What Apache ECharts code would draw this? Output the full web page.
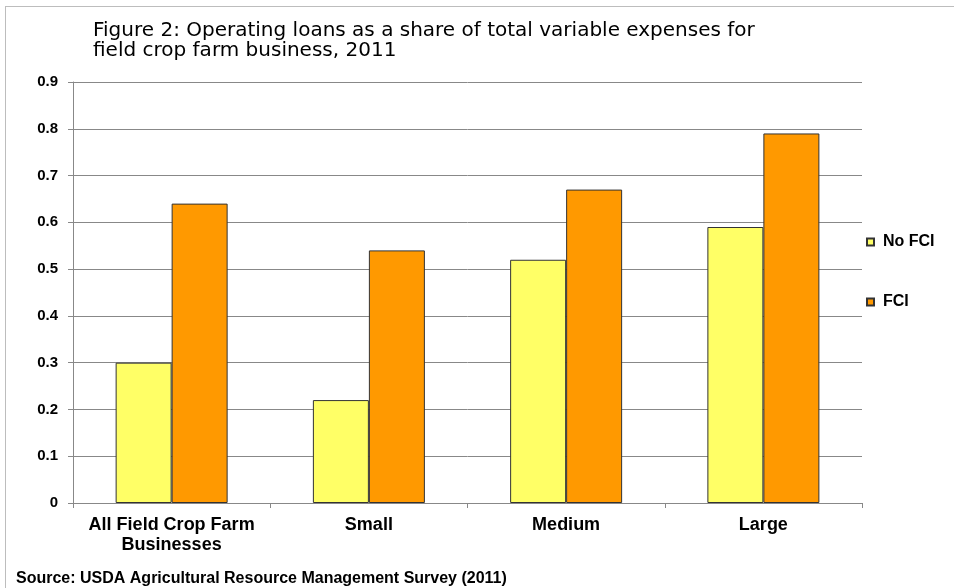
<!DOCTYPE html>
<html>
<head>
<meta charset="utf-8">
<script src="https://cdn.jsdelivr.net/npm/echarts@6/dist/echarts.min.js"></script>
<style>
html,body{margin:0;padding:0;background:#fff;}
#wrap{position:absolute;left:0;top:0;width:954px;height:588px;}
#frame{position:absolute;left:5px;top:6px;width:960px;height:600px;border:1px solid #bdbdbd;box-sizing:border-box;}
#chart{position:absolute;left:0;top:0;width:954px;height:588px;}
</style>
</head>
<body>
<div id="wrap"><div id="frame"></div><div id="chart"></div></div>
<script>
const categories = ['All Field Crop Farm\nBusinesses', 'Small', 'Medium', 'Large'];
const noFci = [0.30, 0.22, 0.52, 0.59];
const fci = [0.64, 0.54, 0.67, 0.79];
const seriesNames = ['No FCI', 'FCI'];
const titleText = 'Figure 2: Operating loans as a share of total variable expenses for\nfield crop farm business, 2011';
const sourceText = 'Source: USDA Agricultural Resource Management Survey (2011)';

const FONT = 'Liberation Sans, Arial, sans-serif';
const chart = echarts.init(document.getElementById('chart'));
chart.setOption({
  animation: false,
  title: [{
    text: titleText,
    left: 88, top: 16,
    textStyle: {fontFamily: 'DejaVu Sans, sans-serif', fontSize: 20, fontWeight: 'normal', color: '#000', lineHeight: 20}
  }, {
    text: sourceText,
    left: 11, top: 566,
    textStyle: {fontFamily: FONT, fontSize: 16, fontWeight: 'bold', color: '#000', lineHeight: 16}
  }],
  legend: {
    orient: 'vertical',
    left: 861, top: 229,
    itemWidth: 7, itemHeight: 7, itemGap: 44,
    icon: 'rect',
    data: seriesNames,
    textStyle: {fontFamily: FONT, fontSize: 16, fontWeight: 'bold', color: '#000', padding: [0,0,0,4], lineHeight: 16}
  },
  grid: {left: 73, right: 92, top: 82, bottom: 85},
  xAxis: {
    type: 'category',
    data: categories,
    axisLine: {lineStyle: {color: '#888', width: 1}},
    axisTick: {show: true, interval: 0, length: 5, lineStyle: {color: '#888'}},
    axisLabel: {interval: 0, hideOverlap: false, fontFamily: FONT, fontSize: 18, fontWeight: 'bold', color: '#000', lineHeight: 20, margin: 12}
  },
  yAxis: {
    type: 'value',
    min: 0, max: 0.9, interval: 0.1,
    axisLine: {show: true, lineStyle: {color: '#888', width: 1}},
    axisTick: {show: true, length: 5, lineStyle: {color: '#888'}},
    splitLine: {lineStyle: {color: '#888', width: 1}},
    axisLabel: {fontFamily: FONT, fontSize: 15, fontWeight: 'bold', color: '#000', margin: 15,
      formatter: v => v === 0 ? '0' : v.toFixed(1)}
  },
  series: [{
    name: seriesNames[0], type: 'bar', data: noFci,
    barWidth: 56, barGap: '0%',
    itemStyle: {color: '#FFFF66', borderColor: '#333', borderWidth: 1}
  }, {
    name: seriesNames[1], type: 'bar', data: fci,
    barWidth: 56, barGap: '0%',
    itemStyle: {color: '#FF9900', borderColor: '#333', borderWidth: 1}
  }]
});
</script>
</body>
</html>
